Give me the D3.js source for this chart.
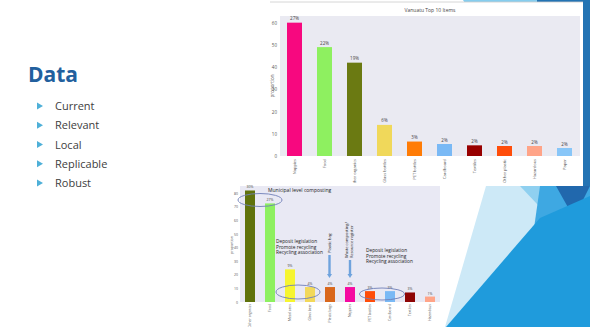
<!DOCTYPE html>
<html><head><meta charset="utf-8">
<script src="https://cdn.jsdelivr.net/npm/d3@7"></script>
<style>body{margin:0;background:#fff}svg{display:block}</style>
</head><body>
<svg id="c" width="590" height="327"></svg>
<script>
// ---- data ----
const topTitle = "Vanuatu Top 10 Items";
const topCategories = ["Nappies","Food","Other organics","Glass bottles","PET bottles","Cardboard","Textiles","Other plastic","Hazardous","Paper"];
const topValues = [60, 49, 42, 14, 6.5, 5.4, 4.8, 4.5, 4.5, 3.6];
const topLabels = ["27%","22%","19%","6%","3%","2%","2%","2%","2%","2%"];
const topColors = ["#f7087f","#8ef060","#6b7a12","#f0d85a","#ff7c06","#7ab9f5","#980000","#ff4d0a","#ffa488","#88c6f8"];
const topTicks = [0,10,20,30,40,50,60];

const botCategories = ["Other organics","Food","Metal cans","Glass beer","Plastic bags","Nappies","PET bottles","Cardboard","Textiles","Hazardous"];
const botValues = [82, 72.5, 24, 11, 11, 11, 8, 8, 7, 4];
const botLabels = ["30%","27%","9%","4%","4%","4%","3%","3%","3%","1%"];
const botColors = ["#5f720c","#8ef060","#f6f530","#f2d85a","#d9671c","#f50aa0","#ff4d0a","#7ab9f5","#8e0505","#ffa488"];
const botTicks = [0,10,20,30,40,50,60,70,80];

const bullets = ["Current","Relevant","Local","Replicable","Robust"];

const svg = d3.select("#c");
const F = "'Open Sans', 'DejaVu Sans', sans-serif";

// ---- slide decorations ----
svg.append("polygon").attr("points","463,0 540,0 540,8 468,8").attr("fill","#86cdee");
svg.append("polygon").attr("points","537,0 590,0 590,7 537,7").attr("fill","#2373b3");
svg.append("rect").attr("x",583).attr("y",0).attr("width",7).attr("height",190).attr("fill","#2373b3");
// bottom right triangles
svg.append("polygon").attr("points","486,186 590,186 590,327 445,327").attr("fill","#cde9f7");
svg.append("polygon").attr("points","520,186 590,186 590,260").attr("fill","#8fd0f0");
svg.append("polygon").attr("points","540,186 590,186 590,327 520,327").attr("fill","#3ea8e2");
svg.append("polygon").attr("points","556,186 590,186 574,218").attr("fill","#2168ad");
svg.append("polygon").attr("points","446,327 540,218 590,196 590,327").attr("fill","#1f9bdc");

// ---- left text ----
svg.append("text").attr("x",28).attr("y",82).attr("font-family",F).attr("font-weight","bold")
  .attr("font-size",21).attr("fill","#22609e").text("Data");
const by = d3.scalePoint().domain(bullets).range([106,183]);
bullets.forEach(b=>{
  const yy = by(b);
  svg.append("polygon").attr("points",`${37},${yy-3.5} ${43},${yy} ${37},${yy+3.5}`).attr("fill","#4fb0d8");
  svg.append("text").attr("x",55).attr("y",yy+4).attr("font-family",F).attr("font-size",11)
    .attr("fill","#404040").text(b);
});

// ---- top chart ----
svg.append("rect").attr("x",270).attr("y",2).attr("width",313).attr("height",182).attr("fill","#fff");
svg.append("line").attr("x1",270).attr("x2",583).attr("y1",2).attr("y2",2).attr("stroke","#ccc").attr("stroke-width",0.8);
const tx = d3.scaleBand().domain(topCategories).range([279.5,579.5]).paddingInner(0.5).paddingOuter(0.25);
const ty = d3.scaleLinear().domain([0,63]).range([156,16]);
svg.append("rect").attr("x",280).attr("y",16).attr("width",300).attr("height",140).attr("fill","#eaeaf2");
svg.append("text").attr("x",430).attr("y",12).attr("text-anchor","middle").attr("font-family",F)
  .attr("font-size",5).attr("fill","#444").text(topTitle);
const tyAxis = svg.append("g").attr("transform","translate(280,0)")
  .call(d3.axisLeft(ty).tickValues(topTicks).tickSize(0).tickPadding(3));
tyAxis.select(".domain").remove();
tyAxis.selectAll("text").attr("font-size",4.5).attr("font-family",F).attr("fill","#555");
svg.append("text").attr("transform","translate(274,86) rotate(-90)").attr("text-anchor","middle")
  .attr("font-family",F).attr("font-size",4.5).attr("fill","#555").text("proportion");
svg.append("g").selectAll("rect").data(topCategories).join("rect")
  .attr("x",d=>tx(d)).attr("width",tx.bandwidth())
  .attr("y",(d,i)=>ty(topValues[i])).attr("height",(d,i)=>ty(0)-ty(topValues[i]))
  .attr("fill",(d,i)=>topColors[i]);
svg.append("g").selectAll("text").data(topCategories).join("text")
  .attr("x",d=>tx(d)+tx.bandwidth()/2).attr("y",(d,i)=>ty(topValues[i])-2.5)
  .attr("text-anchor","middle").attr("font-family",F).attr("font-size",4.5).attr("fill","#444")
  .text((d,i)=>topLabels[i]);
svg.append("g").selectAll("text").data(topCategories).join("text")
  .attr("transform",d=>`translate(${tx(d)+tx.bandwidth()/2+1.5},159) rotate(-90)`)
  .attr("text-anchor","end").attr("font-family",F).attr("font-size",4).attr("fill","#555")
  .text(d=>d);

// ---- bottom chart ----
svg.append("rect").attr("x",231).attr("y",183).attr("width",210).attr("height",144).attr("fill","#fff");
const bx = d3.scaleBand().domain(botCategories).range([240,440]).paddingInner(0.5).paddingOuter(0.25);
const byS = d3.scaleLinear().domain([0,85.3]).range([302,186]);
svg.append("rect").attr("x",240).attr("y",186).attr("width",200).attr("height",116).attr("fill","#e9e9f4");
const byAxis = svg.append("g").attr("transform","translate(240,0)")
  .call(d3.axisLeft(byS).tickValues(botTicks).tickSize(0).tickPadding(2));
byAxis.select(".domain").remove();
byAxis.selectAll("text").attr("font-size",3.5).attr("font-family",F).attr("fill","#555");
svg.append("text").attr("transform","translate(233,245) rotate(-90)").attr("text-anchor","middle")
  .attr("font-family",F).attr("font-size",3.5).attr("fill","#555").text("proportion");
svg.append("g").selectAll("rect").data(botCategories).join("rect")
  .attr("x",d=>bx(d)).attr("width",bx.bandwidth())
  .attr("y",(d,i)=>byS(botValues[i])).attr("height",(d,i)=>byS(0)-byS(botValues[i]))
  .attr("fill",(d,i)=>botColors[i]);
svg.append("g").selectAll("text").data(botCategories).join("text")
  .attr("x",d=>bx(d)+bx.bandwidth()/2).attr("y",(d,i)=>byS(botValues[i])-2)
  .attr("text-anchor","middle").attr("font-family",F).attr("font-size",3.5).attr("fill","#444")
  .text((d,i)=>botLabels[i]);
svg.append("g").selectAll("text").data(botCategories).join("text")
  .attr("transform",d=>`translate(${bx(d)+bx.bandwidth()/2+1.2},304) rotate(-90)`)
  .attr("text-anchor","end").attr("font-family",F).attr("font-size",3.4).attr("fill","#555")
  .text(d=>d);

// annotations
const ann = svg.append("g").attr("font-family",F).attr("fill","#222");
ann.append("text").attr("x",268).attr("y",192).attr("font-size",5).text("Municipal level composting");
const ell = (cx,cy,rx,ry)=>svg.append("ellipse").attr("cx",cx).attr("cy",cy).attr("rx",rx).attr("ry",ry)
  .attr("fill","none").attr("stroke","#6f7fb8").attr("stroke-width",0.9);
ell(260,200,22,6.5);
ell(298,292,22,7);
ell(382,294,22.5,6);
["Deposit legislation","Promote recycling","Recycling association"].forEach((t,i)=>{
  ann.append("text").attr("x",276).attr("y",243+i*5.5).attr("font-size",4.8).text(t);
  ann.append("text").attr("x",366).attr("y",252+i*5.5).attr("font-size",4.8).text(t);
});
ann.append("text").attr("transform","translate(331,253) rotate(-90)").attr("font-size",4).text("Plastic bag");
ann.append("text").attr("transform","translate(348,258) rotate(-90)").attr("font-size",4).text("Waste composting/");
ann.append("text").attr("transform","translate(353,258) rotate(-90)").attr("font-size",4).text("Resource register");
const arrow = (x,y1,y2)=>{
  svg.append("rect").attr("x",x-1.2).attr("y",y1).attr("width",2.4).attr("height",y2-y1-3).attr("fill","#6fa3dd");
  svg.append("polygon").attr("points",`${x-2.5},${y2-4} ${x+2.5},${y2-4} ${x},${y2}`).attr("fill","#6fa3dd");
};
arrow(329.5,255,278);
arrow(350,260,278);
</script>
</body></html>
